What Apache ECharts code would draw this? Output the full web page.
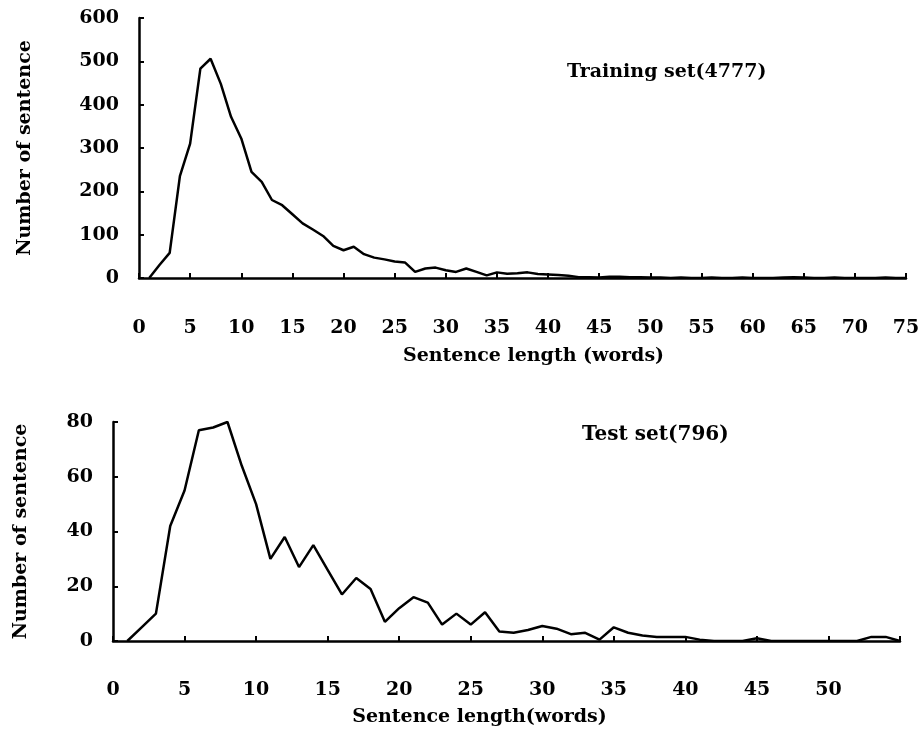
<!DOCTYPE html>
<html>
<head>
<meta charset="utf-8">
<script src="https://cdn.jsdelivr.net/npm/echarts@6/dist/echarts.min.js"></script>
<style>
html,body{margin:0;padding:0;background:#fff;}
#chart{width:924px;height:730px;}
</style>
</head>
<body>
<div id="chart"></div>
<script>
// Training set: sentence length (words) vs number of sentences
var trainLengths = [1,2,3,4,5,6,7,8,9,10,11,12,13,14,15,16,17,18,19,20,21,22,23,24,25,26,27,28,29,30,31,32,33,34,35,36,37,38,39,40,41,42,43,44,45,46,47,48,49,50,51,52,53,54,55,56,57,58,59,60,61,62,63,64,65,66,67,68,69,70,71,72,73,74,75];
var trainCounts  = [0,30,58,235,310,483,506,448,372,322,245,222,180,168,147,126,112,97,74,64,72,55,47,43,38,36,14,22,24,18,14,22,14,6,13,10,11,13,9,8,7,5,2,2,1,3,3,2,2,1,1,0,1,0,0,1,0,0,1,0,0,0,1,2,1,0,0,1,0,0,0,0,1,0,0];
// Test set
var testLengths = [1,2,3,4,5,6,7,8,9,10,11,12,13,14,15,16,17,18,19,20,21,22,23,24,25,26,27,28,29,30,31,32,33,34,35,36,37,38,39,40,41,42,43,44,45,46,47,48,49,50,51,52,53,54,55];
var testCounts  = [0,5,10,42,55,77,78,80,64,50,30,38,27,35,26,17,23,19,7,12,16,14,6,10,6,10.5,3.5,3,4,5.5,4.5,2.5,3,0.5,5,3,2,1.5,1.5,1.5,0.5,0,0,0,1,0,0,0,0,0,0,0,1.5,1.5,0];
// Tick labels
var trainYTicks = [0,100,200,300,400,500,600];
var testYTicks = [0,20,40,60,80];
var trainXMax = 75, testXMax = 55, testXLabelMax = 50;

var FONT = 'DejaVu Serif';
function pairs(xs, ys){ return xs.map(function(x,i){ return [x, ys[i]]; }); }

var axisLine = {show:true, lineStyle:{color:'#000', width:2.5}};
var axisTick = {show:true, inside:true, length:5, lineStyle:{color:'#000', width:2}};
var lbl = {color:'#000', fontFamily:FONT, fontWeight:'bold', fontSize:19};

var chart = echarts.init(document.getElementById('chart'), null, {renderer:'canvas'});
chart.setOption({
  animation:false,
  backgroundColor:'#fff',
  grid:[
    {left:139, right:18, top:18, height:260},
    {left:113, right:24, top:422, height:219}
  ],
  xAxis:[
    {gridIndex:0, type:'value', min:0, max:trainXMax, interval:5,
     axisLine:axisLine, axisTick:axisTick, splitLine:{show:false},
     axisLabel:Object.assign({margin:41}, lbl),
     name:'Sentence length (words)', nameLocation:'middle', nameGap:69,
     nameTextStyle:Object.assign({padding:[0,0,0,22]}, lbl)},
    {gridIndex:1, type:'value', min:0, max:testXMax, interval:5,
     axisLine:axisLine, axisTick:axisTick, splitLine:{show:false},
     axisLabel:Object.assign({margin:40, formatter:function(v){ return v<=testXLabelMax ? String(v) : ''; }}, lbl),
     name:'Sentence length(words)', nameLocation:'middle', nameGap:67,
     nameTextStyle:Object.assign({padding:[0,54,0,0]}, lbl)},
  ],
  yAxis:[
    {gridIndex:0, type:'value', min:trainYTicks[0], max:trainYTicks[trainYTicks.length-1], interval:100,
     axisLine:axisLine, axisTick:axisTick, splitLine:{show:false},
     axisLabel:Object.assign({margin:20}, lbl),
     name:'Number of sentence', nameLocation:'middle', nameGap:104, nameRotate:90,
     nameTextStyle:lbl},
    {gridIndex:1, type:'value', min:testYTicks[0], max:testYTicks[testYTicks.length-1], interval:20,
     axisLine:axisLine, axisTick:axisTick, splitLine:{show:false},
     axisLabel:Object.assign({margin:20}, lbl),
     name:'Number of sentence', nameLocation:'middle', nameGap:82, nameRotate:90,
     nameTextStyle:lbl}
  ],
  graphic:[
    {type:'text', left:567, top:63, style:{text:'Training set(4777)', fill:'#000', font:'bold 19px "DejaVu Serif"'}},
    {type:'text', left:582, top:425, style:{text:'Test set(796)', fill:'#000', font:'bold 20px "DejaVu Serif"'}}
  ],
  series:[
    {type:'line', xAxisIndex:0, yAxisIndex:0, data:pairs(trainLengths, trainCounts),
     showSymbol:false, lineStyle:{color:'#000', width:2.5}, itemStyle:{color:'#000'}},
    {type:'line', xAxisIndex:1, yAxisIndex:1, data:pairs(testLengths, testCounts),
     showSymbol:false, lineStyle:{color:'#000', width:2.5}, itemStyle:{color:'#000'}}
  ]
});
</script>
</body>
</html>
